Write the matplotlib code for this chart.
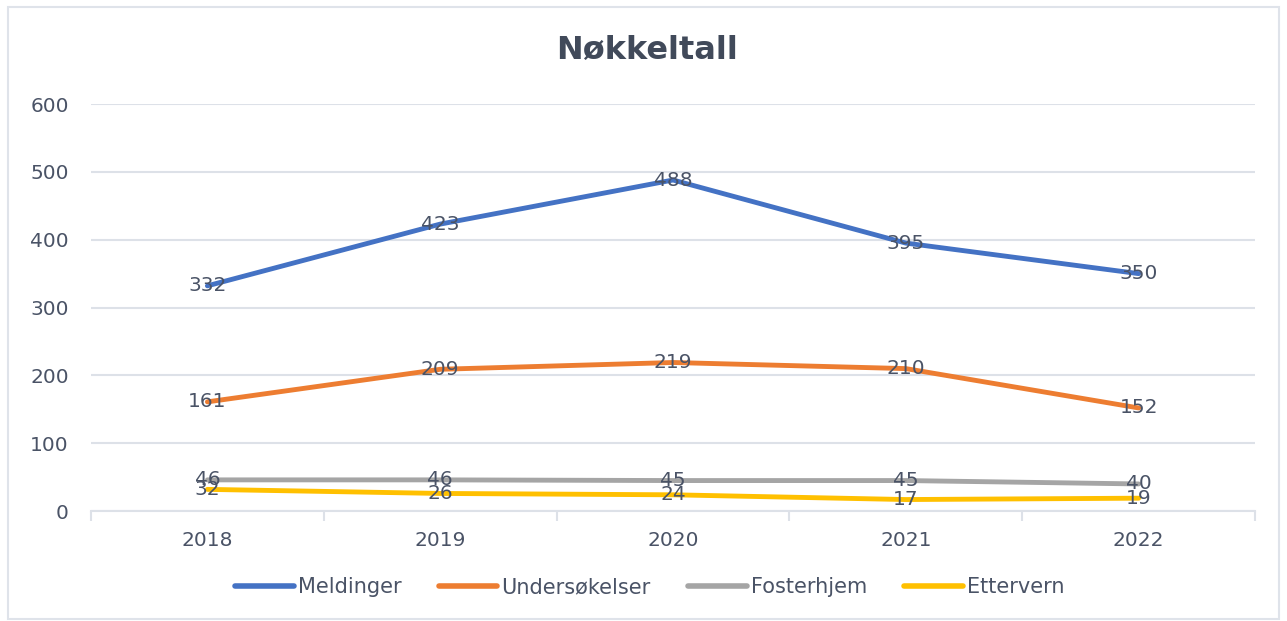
import matplotlib.pyplot as plt
from matplotlib.patches import Rectangle

plt.rcParams['font.family'] = ['DejaVu Sans']

years = ['2018', '2019', '2020', '2021', '2022']
meldinger = [332, 423, 488, 395, 350]
undersokelser = [161, 209, 219, 210, 152]
fosterhjem = [46, 46, 45, 45, 40]
ettervern = [32, 26, 24, 17, 19]

series = [
    ('Meldinger', meldinger, '#4472C4'),
    ('Undersøkelser', undersokelser, '#ED7D31'),
    ('Fosterhjem', fosterhjem, '#A5A5A5'),
    ('Ettervern', ettervern, '#FFC000'),
]

text_col = '#4a5366'
grid_col = '#dde1e8'

fig = plt.figure(figsize=(12.87, 6.21), dpi=100)
ax = fig.add_axes([0.0707, 0.177, 0.9045, 0.6555])

x = list(range(len(years)))
for name, vals, col in series:
    ax.plot(x, vals, color=col, linewidth=3.5, label=name, solid_capstyle='round', zorder=3)
    for xi, v in zip(x, vals):
        ax.text(xi, v, str(v), ha='center', va='center', fontsize=14.5,
                color=text_col, zorder=4)

ax.set_xlim(-0.5, 4.5)
ax.set_ylim(0, 600)
ax.set_yticks(range(0, 601, 100))
ax.set_xticks(x)
ax.set_xticklabels(years)
ax.set_xticks([i - 0.5 for i in range(6)], minor=True)
ax.tick_params(axis='x', which='major', length=0, pad=14, labelsize=14.5, colors=text_col)
ax.tick_params(axis='x', which='minor', length=7, width=1.5, color=grid_col)
ax.tick_params(axis='y', length=0, pad=16, labelsize=14.5, colors=text_col)
ax.grid(axis='y', color=grid_col, linewidth=1.5)
ax.set_axisbelow(True)
for s in ['top', 'right', 'left']:
    ax.spines[s].set_visible(False)
ax.spines['bottom'].set_color(grid_col)
ax.spines['bottom'].set_linewidth(1.5)

fig.text(0.503, 0.918, 'Nøkkeltall', ha='center', va='center', fontsize=23,
         fontweight='bold', color='#414a5a')

leg = fig.legend(loc='center', bbox_to_anchor=(0.505, 0.055), ncol=4, frameon=False,
                 fontsize=15, handlelength=2.8, columnspacing=1.8, handletextpad=0.2)
for t in leg.get_texts():
    t.set_color(text_col)
for h in leg.get_lines():
    h.set_linewidth(4)

fig.patches.append(Rectangle((0.006, 0.004), 0.988, 0.985, transform=fig.transFigure,
                             fill=False, edgecolor='#dfe3ea', linewidth=1.5))

fig.savefig('out.png', dpi=100)
